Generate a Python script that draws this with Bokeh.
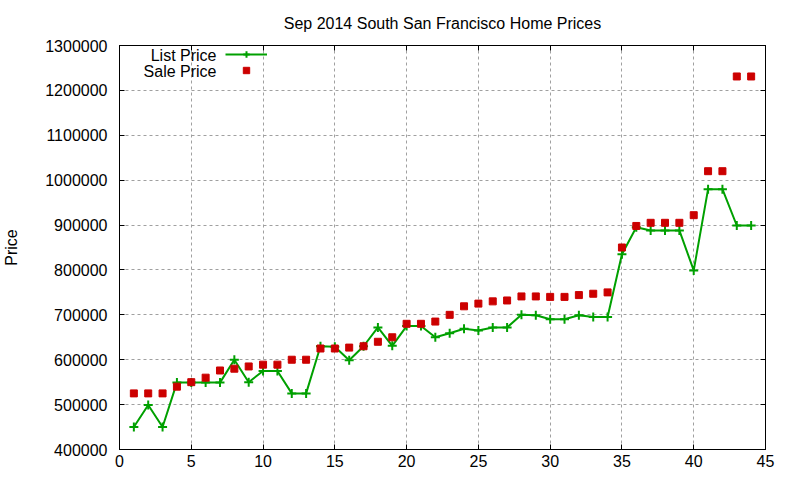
from bokeh.plotting import figure
from bokeh.models import (ColumnDataSource, Range1d, LinearAxis, BasicTickFormatter,
                          SingleIntervalTicker, Legend, LegendItem, Label)
from bokeh.embed import file_html
from bokeh.resources import INLINE

homes = list(range(1, 45))
list_price = [450000, 499000, 450000, 549000, 549000, 549000, 549000, 600000, 550000, 575000,
              575000, 525000, 525000, 630000, 629000, 599000, 630000, 672000, 631000, 675000,
              675000, 650000, 659000, 669000, 665000, 672000, 672000, 700000, 699000, 690000,
              690000, 699000, 695000, 695000, 835000, 895000, 888000, 888000, 888000, 799000,
              980000, 980000, 899000, 899000]
sale_price = [525000, 525000, 525000, 540000, 550000, 560000, 576000, 580000, 585000, 589000,
              589000, 600000, 600000, 625000, 625000, 627000, 630000, 640000, 650000, 680000,
              680000, 685000, 700000, 719000, 725000, 730000, 732000, 741000, 741000, 740000,
              740000, 744000, 747000, 750000, 850000, 898000, 905000, 905000, 905000, 922000,
              1020000, 1020000, 1231000, 1231000]

title_text = "Sep 2014 South San Francisco Home Prices"
y_label = "Price"
list_label = "List Price"
sale_label = "Sale Price"

GREEN = "#00a000"
RED = "#cc0000"
FONT = "Liberation Sans"

src = ColumnDataSource(dict(x=homes, lp=list_price, sp=sale_price))

p = figure(width=800, height=480, output_backend="svg", toolbar_location=None,
           x_range=Range1d(0, 45), y_range=Range1d(400000, 1300000),
           min_border_left=119, min_border_right=35, min_border_top=45, min_border_bottom=31,
           x_axis_location=None, y_axis_location=None)

p.title.text = title_text
p.title.align = "center"
p.title.text_font = FONT
p.title.text_font_size = "16px"
p.title.text_font_style = "normal"
p.title.text_color = "black"
p.title.standoff = 20

p.outline_line_color = "black"
p.outline_line_width = 1
p.background_fill_color = "white"
p.border_fill_color = "white"

xt = SingleIntervalTicker(interval=5)
yt = SingleIntervalTicker(interval=100000)

def style_axis(ax, show_labels, standoff=8):
    ax.axis_line_color = "black"
    ax.major_tick_line_color = "black"
    ax.major_tick_in = 5
    ax.major_tick_out = 0
    ax.minor_tick_line_color = None
    ax.major_label_text_font = FONT
    ax.major_label_standoff = standoff
    if show_labels:
        ax.major_label_text_font_size = "16px"
        ax.major_label_text_color = "black"
    else:
        ax.major_label_text_font_size = "1px"
        ax.major_label_text_color = None

xb = LinearAxis(ticker=xt)
style_axis(xb, True, 1)
p.add_layout(xb, "below")
xa = LinearAxis(ticker=xt)
style_axis(xa, False, 0)
p.add_layout(xa, "above")

yl = LinearAxis(ticker=yt, formatter=BasicTickFormatter(use_scientific=False))
style_axis(yl, True, 8)
yl.axis_label = y_label
yl.axis_label_text_font = FONT
yl.axis_label_text_font_size = "16px"
yl.axis_label_text_font_style = "normal"
yl.axis_label_text_color = "black"
yl.axis_label_standoff = 22
p.add_layout(yl, "left")
yr = LinearAxis(ticker=yt)
style_axis(yr, False, 0)
p.add_layout(yr, "right")

p.xgrid.ticker = xt
p.ygrid.ticker = yt
for g in (p.xgrid, p.ygrid):
    g.grid_line_color = "#a0a0a0"
    g.grid_line_dash = "3 3"
    g.grid_line_width = 1

ln = p.line("x", "lp", source=src, line_color=GREEN, line_width=2)
cr = p.scatter("x", "lp", source=src, marker="cross", size=9, line_color=GREEN, line_width=2)
sq = p.scatter("x", "sp", source=src, marker="square", size=7, fill_color=RED, line_color=RED)

legend = Legend(items=[LegendItem(label=" ", renderers=[ln, cr]),
                       LegendItem(label=" ", renderers=[sq])],
                location=(106, 371), orientation="vertical",
                glyph_width=42, glyph_height=16, spacing=0, padding=0, margin=0,
                label_standoff=0, label_width=0, label_height=16,
                label_text_font_size="1px", label_text_color=None,
                border_line_color=None, background_fill_alpha=0)
p.add_layout(legend, "center")

for i, txt in enumerate([list_label, sale_label]):
    p.add_layout(Label(x=97, y=394 - 16 * i, x_units="screen", y_units="screen", text=txt,
                       text_align="right", text_baseline="middle", text_font=FONT,
                       text_font_size="16px", text_color="black"))

open("out.html", "w").write(file_html(p, INLINE))
